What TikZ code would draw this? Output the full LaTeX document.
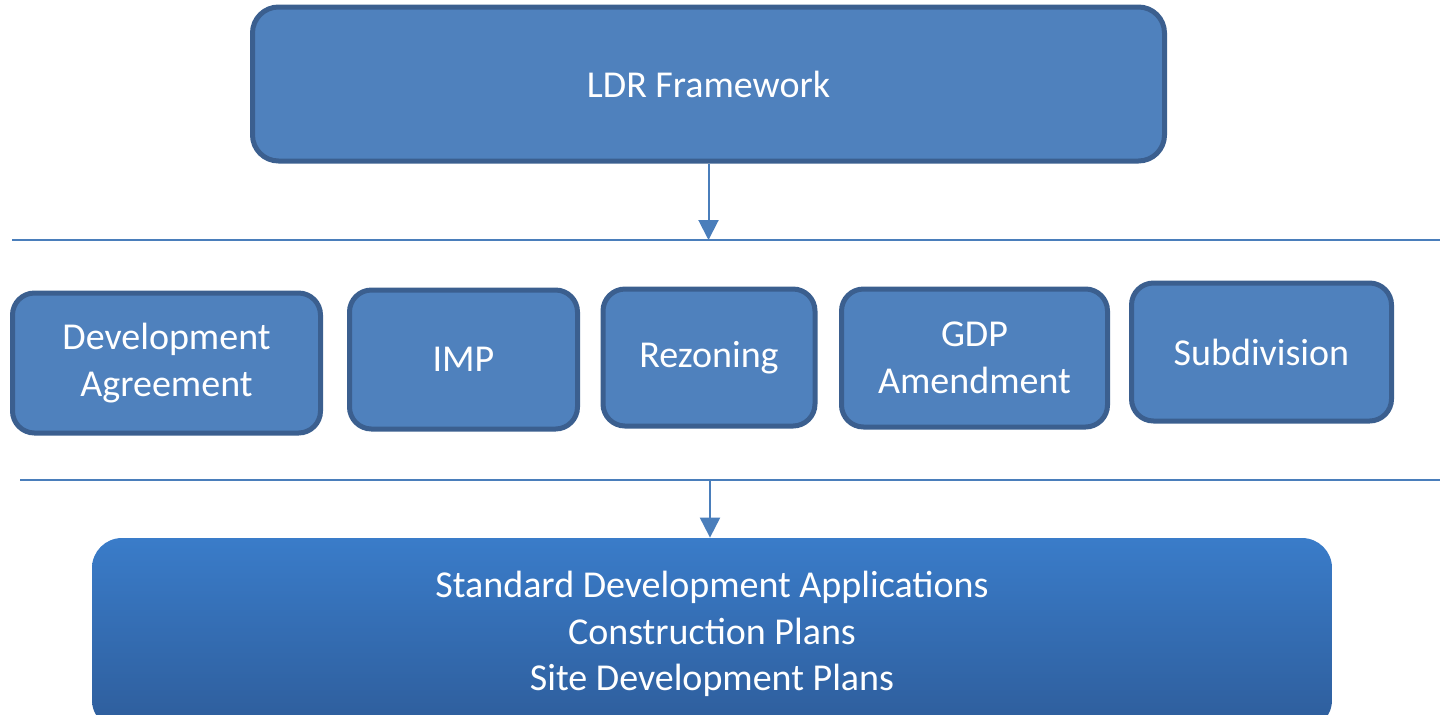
\documentclass[tikz,border=0pt]{standalone}
\usepackage{fontspec}
\setmainfont{Carlito}
\usetikzlibrary{arrows.meta}

\definecolor{boxfill}{HTML}{4F81BD}
\definecolor{boxline}{HTML}{3B5F8F}
\definecolor{rulecol}{HTML}{4A7EBB}
\definecolor{gradtop}{HTML}{3A7CC9}
\definecolor{gradbot}{HTML}{2E5D9B}

\tikzset{
    stage/.style={draw=boxline, line width=2.5pt, fill=boxfill, rounded corners=11pt,
        text=white, align=center, inner sep=0pt,
        font=\fontsize{19}{23.5}\selectfont},
    result/.style={rounded corners=15pt, top color=gradtop, bottom color=gradbot,
        text=white, align=center, inner sep=0pt,
        font=\fontsize{19}{23.3}\selectfont},
    sep/.style={draw=rulecol, line width=1pt},
    flow/.style={draw=rulecol, line width=1pt, -{Triangle[width=10pt,length=10pt]}}
}

\begin{document}
\begin{tikzpicture}[x=0.5pt, y=-0.5pt]
        \useasboundingbox (0, 0) rectangle (1440, 714);

        \node [stage, minimum width=456pt, minimum height=77pt, rounded corners=13pt]
            (ldr) at (708.5, 84) {LDR Framework};

        \coordinate (sepA left) at (12, 240);
        \coordinate (sepA right) at (1440, 240);
        \coordinate (sepA mid) at (708.5, 240);
        \draw [sep] (sepA left) -- (sepA right);
        \draw [flow] (ldr.south) -- (sepA mid);

        \node [stage, minimum width=154pt, minimum height=70pt] (devagr) at (166.5, 363)
            {Development\\Agreement};
        \node [stage, minimum width=114pt, minimum height=69.5pt] (imp) at (463.5, 359.5)
            {IMP};
        \node [stage, minimum width=106pt, minimum height=68.5pt] (rezoning) at (709, 357.5)
            {Rezoning};
        \node [stage, minimum width=133pt, minimum height=69pt] (gdp) at (974.5, 358)
            {GDP\\Amendment};
        \node [stage, minimum width=130pt, minimum height=69pt] (subdiv) at (1261.5, 352)
            {Subdivision};

        \coordinate (sepB left) at (20, 480);
        \coordinate (sepB right) at (1440, 480);
        \coordinate (sepB mid) at (710, 480);
        \draw [sep] (sepB left) -- (sepB right);

        \node [result, minimum width=620pt, minimum height=96pt] (std) at (712, 634)
            {Standard Development Applications\\Construction Plans\\Site Development Plans};

        \draw [flow] (sepB mid) -- (sepB mid |- std.north);
    \end{tikzpicture}
\end{document}
